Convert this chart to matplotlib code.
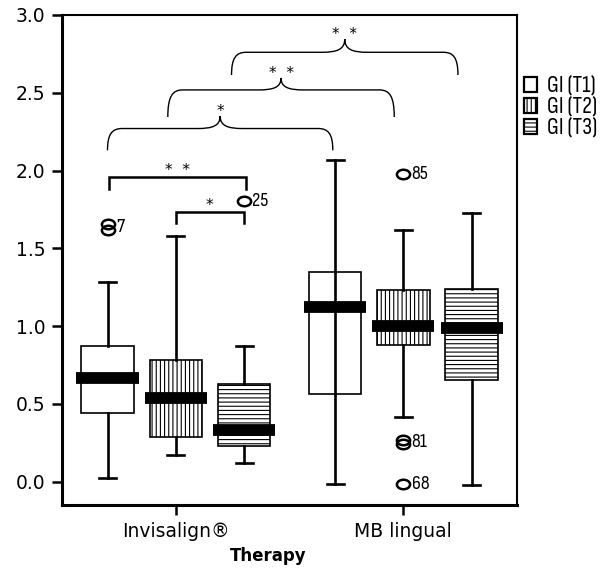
import numpy as np
import matplotlib
matplotlib.use("Agg")
import matplotlib.pyplot as plt
from matplotlib.path import Path
from matplotlib.patches import PathPatch, Patch

# =========================
# data
# =========================
groups = ["Invisalign®", "MB lingual"]
series = ["GI (T1)", "GI (T2)", "GI (T3)"]
hatches = ["", "||||", "----"]

# per group: rows = T1, T2, T3 ; cols = whislo, q1, med, q3, whishi
box_stats = {
    "Invisalign®": [[0.025, 0.445, 0.665, 0.875, 1.285],
                    [0.17, 0.285, 0.54, 0.78, 1.58],
                    [0.12, 0.23, 0.335, 0.63, 0.87]],
    "MB lingual": [[-0.015, 0.565, 1.125, 1.35, 2.07],
                   [0.415, 0.88, 1.0, 1.235, 1.62],
                   [-0.02, 0.655, 0.99, 1.24, 1.73]],
}

# outliers: group, series index, values, case label
outliers = [
    ("Invisalign®", 0, [1.62, 1.655], "7"),
    ("Invisalign®", 2, [1.805], "25"),
    ("MB lingual", 1, [1.98], "85"),
    ("MB lingual", 1, [0.245, 0.27], "81"),
    ("MB lingual", 1, [-0.015], "68"),
]

# square brackets: x0, x1, top y, tip y, label
brackets = [(0.706, 1.307, 1.96, 1.88, "*  *"),
            (1.0, 1.298, 1.734, 1.66, "*")]

# curly braces: x0, x1, end y, horizontal y, peak y, label
braces = [(0.70, 1.69, 2.13, 2.27, 2.35, "*"),
          (0.965, 1.96, 2.344, 2.518, 2.595, "*  *"),
          (1.245, 2.24, 2.614, 2.76, 2.845, "*  *")]

offsets = [-0.3, 0.0, 0.3]
box_w = 0.23
med_w = 0.273

plt.rcParams['hatch.linewidth'] = 0.8
narrow = ['Sofia Sans Condensed', 'DejaVu Sans']

fig = plt.figure(figsize=(6.02, 5.74), dpi=100)
ax = fig.add_axes([0.103, 0.120, 0.756, 0.854])

# =========================
# boxes
# =========================
for gi, g in enumerate(groups):
    for si in range(3):
        lo, q1, med, q3, hi = box_stats[g][si]
        pos = gi + 1 + offsets[si]
        st = [dict(whislo=lo, q1=q1, med=med, q3=q3, whishi=hi, fliers=[])]
        res = ax.bxp(st, positions=[pos], widths=box_w, capwidths=[0.075],
                     patch_artist=True, showfliers=False,
                     boxprops=dict(facecolor="white", edgecolor="black",
                                   linewidth=1.2, hatch=hatches[si]),
                     whiskerprops=dict(color="black", linewidth=1.9),
                     capprops=dict(color="black", linewidth=1.9),
                     medianprops=dict(visible=False), manage_ticks=False)
        if g == "MB lingual" and si == 0:
            # this one is drawn unfilled, whisker shows through
            res["boxes"][0].set_facecolor("none")
            ax.plot([pos, pos], [q1, q3], color="black", lw=1.9, zorder=1)
        ax.plot([pos - med_w / 2, pos + med_w / 2], [med, med], color="black",
                lw=8.5, solid_capstyle="butt", zorder=4)

# =========================
# outliers
# =========================
circ = Path.unit_circle()
ell = Path(circ.vertices * [1.0, 0.72], circ.codes)
for g, si, vals, lab in outliers:
    pos = groups.index(g) + 1 + offsets[si]
    ax.plot([pos] * len(vals), vals, linestyle="none", marker=ell, ms=9.5,
            mfc="none", mec="black", mew=1.8, zorder=5)
    ax.annotate(lab, (pos, np.mean(vals)), xytext=(6, 0),
                textcoords="offset points", va="center", ha="left",
                fontsize=14.5, family=narrow)

# =========================
# significance marks
# =========================
for x0, x1, yt, ytip, lab in brackets:
    ax.plot([x0, x0, x1, x1], [ytip, yt, yt, ytip], color="black", lw=1.8,
            solid_joinstyle="miter")
    ax.annotate(lab, ((x0 + x1) / 2, yt), xytext=(0, 1.5),
                textcoords="offset points", ha="center", va="baseline",
                fontsize=11)


def brace_path(x0, x1, ye, yh, yp):
    xm = (x0 + x1) / 2
    rx, cx = 0.065, 0.10
    verts = [(x0, ye),
             (x0, ye + 0.75 * (yh - ye)), (x0 + 0.3 * rx, yh), (x0 + rx, yh),
             (xm - cx, yh),
             (xm - 0.35 * cx, yh), (xm, yh + 0.2 * (yp - yh)), (xm, yp),
             (xm, yh + 0.2 * (yp - yh)), (xm + 0.35 * cx, yh), (xm + cx, yh),
             (x1 - rx, yh),
             (x1 - 0.3 * rx, yh), (x1, ye + 0.75 * (yh - ye)), (x1, ye)]
    codes = [Path.MOVETO,
             Path.CURVE4, Path.CURVE4, Path.CURVE4,
             Path.LINETO,
             Path.CURVE4, Path.CURVE4, Path.CURVE4,
             Path.CURVE4, Path.CURVE4, Path.CURVE4,
             Path.LINETO,
             Path.CURVE4, Path.CURVE4, Path.CURVE4]
    return Path(verts, codes)


for x0, x1, ye, yh, yp, lab in braces:
    ax.add_patch(PathPatch(brace_path(x0, x1, ye, yh, yp), facecolor="none",
                           edgecolor="black", lw=1.0))
    ax.annotate(lab, ((x0 + x1) / 2, yp), xytext=(0, 0),
                textcoords="offset points", ha="center", va="baseline",
                fontsize=11)

# =========================
# axes
# =========================
ax.set_xlim(0.5, 2.5)
ax.set_ylim(-0.15, 3.0)
ax.set_xticks([1, 2])
ax.set_xticklabels(groups)
ax.set_yticks(np.arange(0, 3.01, 0.5))
ax.set_yticklabels([f"{v:.1f}" for v in np.arange(0, 3.01, 0.5)])
ax.tick_params(axis="both", labelsize=13.5, length=7, width=1.8, pad=5)
for side in ["left", "bottom"]:
    ax.spines[side].set_linewidth(2.2)
for side in ["top", "right"]:
    ax.spines[side].set_linewidth(1.5)
ax.set_xlabel("Therapy", fontsize=12, fontweight="bold")
ax.xaxis.set_label_coords(0.453, -0.085)

handles = [Patch(facecolor="white", edgecolor="black", hatch=h, lw=1.6, label=s)
           for h, s in zip(hatches, series)]
fig.legend(handles=handles, loc="upper left", bbox_to_anchor=(0.871, 0.868),
           frameon=False, prop={"family": narrow, "size": 17},
           handlelength=0.55, handleheight=0.55, handletextpad=0.4,
           labelspacing=0.0, borderaxespad=0, borderpad=0)

fig.savefig("out.png", dpi=100)
